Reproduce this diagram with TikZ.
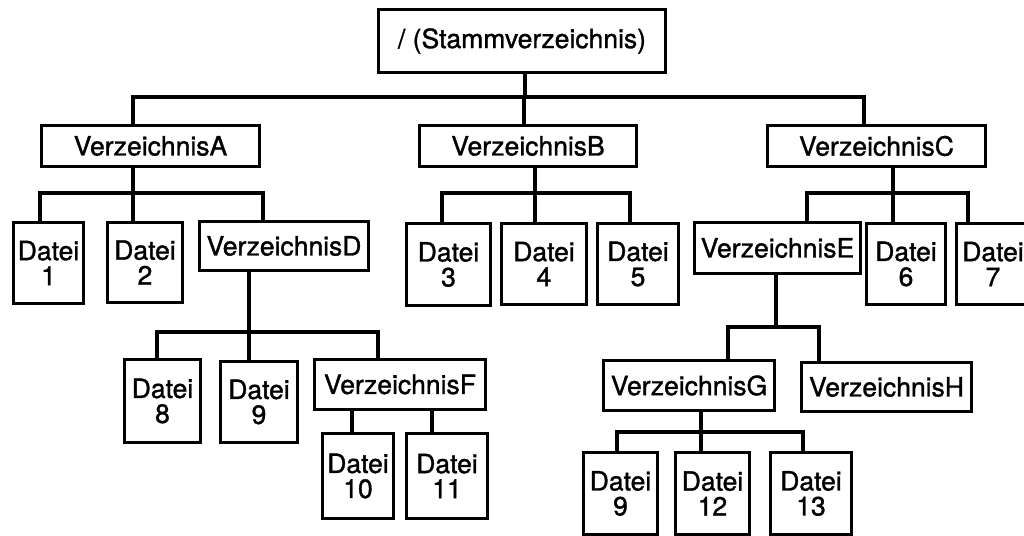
\documentclass[tikz,border=0pt]{standalone}
\usepackage{fontspec}
\setmainfont{TeX Gyre Heros}[FakeBold=1.2]
\begin{document}
\begin{tikzpicture}[x=1pt,y=-1pt,
  box/.style={draw, line width=3.2pt, inner sep=0pt, align=center,
    font=\fontsize{26.5}{25}\selectfont},
  conn/.style={line width=3.2pt, line join=miter}]
\clip (0,0) rectangle (1024,535);
\fill[white] (0,0) rectangle (1024,535);

% levels of the bus lines
\coordinate (busR) at (0,97);
\coordinate (busA) at (0,193);
\coordinate (busD) at (0,332);
\coordinate (busE) at (0,327);
\coordinate (busG) at (0,432);

% root
\node[box, minimum width=287, minimum height=63] (root) at (522,41) {/ (Stammverzeichnis)};

% first level
\node[box, minimum width=218, minimum height=41] (A) at (150.5,146) {VerzeichnisA};
\node[box, minimum width=217, minimum height=41] (B) at (528,146) {VerzeichnisB};
\node[box, minimum width=218, minimum height=41] (C) at (876.5,146) {VerzeichnisC};

% under VerzeichnisA
\node[box, minimum width=70, minimum height=81] (d1) at (48.5,263) {Datei\\1};
\node[box, minimum width=75, minimum height=80] (d2) at (145,262.5) {Datei\\2};
\node[box, minimum width=169, minimum height=49] (D) at (284,246) {VerzeichnisD};

% under VerzeichnisD
\node[box, minimum width=76, minimum height=83] (d8) at (162.5,401) {Datei\\8};
\node[box, minimum width=77, minimum height=81] (d9) at (259,402) {Datei\\9};
\node[box, minimum width=171, minimum height=50] (F) at (400,384.5) {VerzeichnisF};

% under VerzeichnisF
\node[box, minimum width=71, minimum height=85] (d10) at (358,476) {Datei\\10};
\node[box, minimum width=81, minimum height=85] (d11) at (447,476) {Datei\\11};

% under VerzeichnisB
\node[box, minimum width=84, minimum height=82] (d3) at (448.5,264.5) {Datei\\3};
\node[box, minimum width=85, minimum height=81] (d4) at (544,264) {Datei\\4};
\node[box, minimum width=81, minimum height=81] (d5) at (638,264) {Datei\\5};

% under VerzeichnisC
\node[box, minimum width=166, minimum height=51] (E) at (777.5,248) {VerzeichnisE};
\node[box, minimum width=79, minimum height=81] (d6) at (906,264) {Datei\\6};
\node[box, minimum width=73, minimum height=81] (d7) at (993,264) {Datei\\7};

% under VerzeichnisE
\node[box, minimum width=171, minimum height=50] (G) at (689,385.5) {VerzeichnisG};
\node[box, minimum width=170, minimum height=49] (H) at (886.5,387) {VerzeichnisH};

% under VerzeichnisG
\node[box, minimum width=74, minimum height=82] (d9b) at (620.5,493.5) {Datei\\9};
\node[box, minimum width=74, minimum height=82] (d12) at (712.5,493.5) {Datei\\12};
\node[box, minimum width=81, minimum height=82] (d13) at (811,493.5) {Datei\\13};

% root family
\draw[conn] ([xshift=3]root.south) -- ([xshift=3]root.south |- busR);
\draw[conn] ([xshift=-17.5]A.north) |- ([xshift=-12.5]C.north |- busR) -- ([xshift=-12.5]C.north);
\draw[conn] ([xshift=-4]B.north) -- ([xshift=-4]B.north |- busR);

% VerzeichnisA family
\draw[conn] ([xshift=-17.5]A.south) -- ([xshift=-17.5]A.south |- busA);
\draw[conn] ([xshift=-8.5]d1.north) |- ([xshift=-21]D.north |- busA) -- ([xshift=-21]D.north);
\draw[conn] ([xshift=-12]d2.north) -- ([xshift=-12]d2.north |- busA);

% VerzeichnisB family
\draw[conn] ([xshift=7]B.south) -- ([xshift=7]B.south |- busA);
\draw[conn] ([xshift=-6.5]d3.north) |- ([xshift=-8]d5.north |- busA) -- ([xshift=-8]d5.north);
\draw[conn] ([xshift=-9]d4.north) -- ([xshift=-9]d4.north |- busA);

% VerzeichnisC family
\draw[conn] ([xshift=16.5]C.south) -- ([xshift=16.5]C.south |- busA);
\draw[conn] ([xshift=29.5]E.north) |- ([xshift=-25]d7.north |- busA) -- ([xshift=-25]d7.north);
\draw[conn] ([xshift=-13]d6.north) -- ([xshift=-13]d6.north |- busA);

% VerzeichnisD family
\draw[conn] ([xshift=-35]D.south) -- ([xshift=-35]D.south |- busD);
\draw[conn] ([xshift=-5.5]d8.north) |- ([xshift=-22]F.north |- busD) -- ([xshift=-22]F.north);
\draw[conn] ([xshift=-10]d9.north) -- ([xshift=-10]d9.north |- busD);

% VerzeichnisF family
\draw[conn] ([xshift=-6]d10.north) -- ([xshift=-6]d10.north |- F.south);
\draw[conn] ([xshift=-15]d11.north) -- ([xshift=-15]d11.north |- F.south);

% VerzeichnisE family
\draw[conn] ([xshift=-1.5]E.south) -- ([xshift=-1.5]E.south |- busE);
\draw[conn] ([xshift=39]G.north) |- ([xshift=-67.5]H.north |- busE) -- ([xshift=-67.5]H.north);

% VerzeichnisG family
\draw[conn] ([xshift=12]G.south) -- ([xshift=12]G.south |- busG);
\draw[conn] ([xshift=-3.5]d9b.north) |- ([xshift=-8]d13.north |- busG) -- ([xshift=-8]d13.north);
\draw[conn] ([xshift=-11.5]d12.north) -- ([xshift=-11.5]d12.north |- busG);
\end{tikzpicture}
\end{document}
